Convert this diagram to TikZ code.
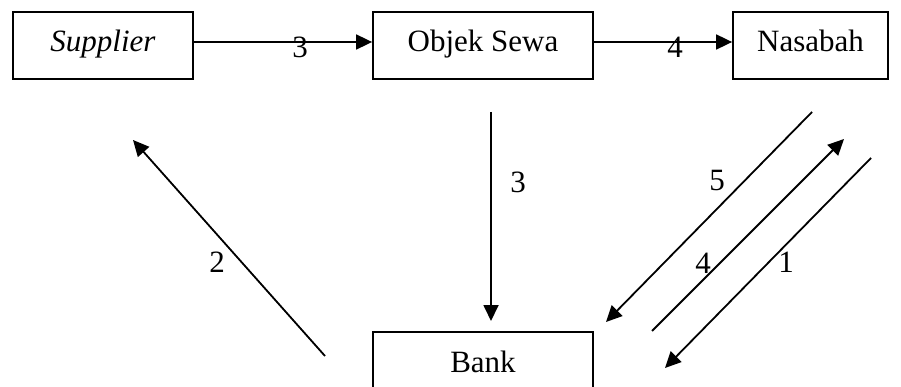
\documentclass[tikz,border=0pt]{standalone}
\usepackage{fontspec}
\setmainfont{Liberation Serif}
\usetikzlibrary{arrows.meta}
\begin{document}
\begin{tikzpicture}[x=1pt,y=-1pt,
  box/.style={draw,line width=1.8pt,inner sep=0pt,text height=22pt,text depth=9pt,minimum height=67pt},
  conn/.style={line width=1.8pt,-{Triangle[length=16pt,width=15pt]}},
  lbl/.style={inner sep=0pt},
  font=\fontsize{31}{37}\selectfont]
\useasboundingbox (0,0) rectangle (901,387);
\clip (0,0) rectangle (901,387);
\node[box,minimum width=180pt] (sup) at (103,45.5) {\itshape Supplier};
\node[box,minimum width=220pt] (obj) at (483,45.5) {Objek Sewa};
\node[box,minimum width=155pt] (nas) at (810.5,45.5) {Nasabah};
\node[box,minimum width=220pt] (bank) at (483,365.5) {Bank};
% horizontal arrows
\draw[conn] (sup.east |- 0,42) -- (obj.west |- 0,42);
\draw[conn] (obj.east |- 0,42) -- (nas.west |- 0,42);
\node[lbl] (l3a) at (300,47) {3};
\node[lbl] (l4a) at (675,47) {4};
% vertical arrow
\coordinate (v1) at (491,112);
\coordinate (v2) at (491,321);
\draw[conn] (v1) -- (v2);
\node[lbl] (l3b) at (518,182) {3};
% arrow 2
\coordinate (a2s) at (325,356);
\coordinate (a2e) at (133,140);
\draw[conn] (a2s) -- (a2e);
\node[lbl] (l2) at (217,262) {2};
% arrow 5
\coordinate (a5s) at (812,112);
\coordinate (a5e) at (606,322);
\draw[conn] (a5s) -- (a5e);
\node[lbl] (l5) at (717,181) {5};
% arrow 4
\coordinate (a4s) at (652,331);
\coordinate (a4e) at (844,139);
\draw[conn] (a4s) -- (a4e);
\node[lbl] (l4b) at (703,263) {4};
% arrow 1
\coordinate (a1s) at (871,158);
\coordinate (a1e) at (665,368);
\draw[conn] (a1s) -- (a1e);
\node[lbl] (l1) at (786,262) {1};
\end{tikzpicture}
\end{document}
